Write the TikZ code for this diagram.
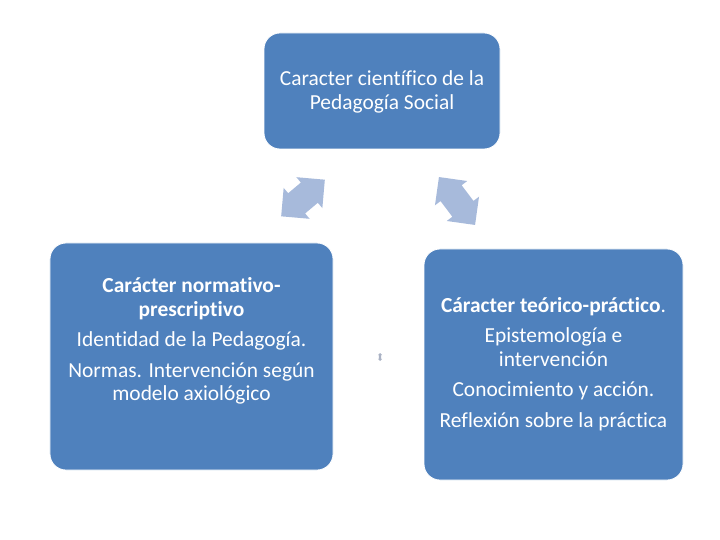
\documentclass[tikz,border=0pt]{standalone}
\usepackage{fontspec}
\setmainfont[Ligatures=NoCommon]{Carlito}
\usepackage{tikz}
\usetikzlibrary{shapes.arrows}
\definecolor{panelblue}{RGB}{79, 129, 189}
\definecolor{linkblue}{RGB}{167, 186, 219}
\definecolor{dotgray}{RGB}{170, 178, 196}

\begin{document}
\begin{tikzpicture}[x=1bp, y=-1bp,
  panel/.style={rectangle, rounded corners=16bp, fill=panelblue, draw=white,
                line width=0.8bp, inner sep=0pt},
  blurb/.style={text=white, align=center, inner sep=0pt,
                font=\fontsize{21.5}{23.5}\selectfont},
  link/.style={shape=double arrow, fill=linkblue, inner xsep=0pt, inner ysep=13bp,
               minimum height=57bp, double arrow head extend=7bp},
]
  \useasboundingbox (0,0) rectangle (720,540);

  \node[panel, minimum width=236bp, minimum height=116bp] (toppanel) at (382,91) {};
  \node[panel, minimum width=283bp, minimum height=227bp] (leftpanel) at (191.5,356.5) {};
  \node[panel, minimum width=259bp, minimum height=231bp] (rightpanel) at (553.5,364.5) {};

  \node[blurb] (toptext) at (382,92) {Caracter científico de la\\Pedagogía Social};
  \node[blurb] (lefttext) at (191.5,341) {\textbf{Carácter normativo-}\\\textbf{prescriptivo}\\[7bp]
    Identidad de la Pedagogía.\\[7bp]
    Normas. Intervención según\\modelo axiológico};
  \node[blurb] (righttext) at (553.5,364) {\textbf{Cáracter teórico-práctico}.\\[7bp]
    Epistemología e\\intervención\\[7bp]
    Conocimiento y acción.\\[7bp]
    Reflexión sobre la práctica};

  \node[link, rotate=40] (leftlink) at (303,198) {};
  \node[link, rotate=-53, minimum height=60bp] (rightlink) at (457,201) {};
  \node[link, fill=dotgray, rotate=90, inner ysep=1bp, minimum height=8bp,
        double arrow head extend=1bp] (bottomlink) at (380,357) {};
\end{tikzpicture}
\end{document}
